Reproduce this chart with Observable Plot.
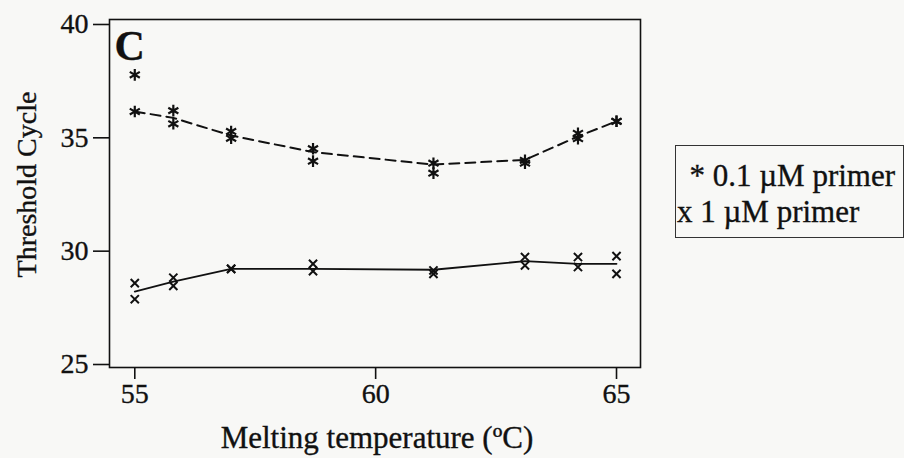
<!DOCTYPE html>
<html>
<head>
<meta charset="utf-8">
<script src="https://cdn.jsdelivr.net/npm/d3@7"></script>
<script src="https://cdn.jsdelivr.net/npm/@observablehq/plot@0.6"></script>
<style>
  html, body { margin: 0; padding: 0; background: #f8f8f6; }
  #wrap { position: relative; width: 904px; height: 458px; overflow: hidden; font-family: 'Liberation Serif', 'Times New Roman', serif; color: #111; }
  #wrap svg, #wrap svg text { font-family: 'Liberation Serif', 'Times New Roman', serif !important; font-variant: normal !important; }
  #wrap svg text { stroke: #111; stroke-width: 0.35px; }
  #legend { position: absolute; left: 675px; top: 145px; width: 229px; height: 93px; box-sizing: border-box; border: 1.5px solid #333; padding-top: 12px; font-size: 31px; line-height: 36px; white-space: nowrap; -webkit-text-stroke: 0.35px #111; }
  #legend .l1 { padding-left: 13.5px; }
  #legend .l2 { padding-left: 1px; }
</style>
</head>
<body>
<div id="wrap"></div>
<script>
// Melting temperatures (°C)
const temps = [55, 55.8, 57, 58.7, 61.2, 63.1, 64.2, 65];
// 0.1 µM primer: replicate threshold cycles and connecting line
const lowRep1 = [37.78, 36.2, 35.28, 34.52, 33.88, 34.01, 35.2, 35.73];
const lowRep2 = [36.16, 35.62, 34.98, 33.97, 33.44, 33.88, 34.96, 35.73];
const lowLine = [36.16, 35.88, 35.1, 34.37, 33.82, 34.03, 35.06, 35.73];
// 1 µM primer: replicate threshold cycles and connecting line
const highRep1 = [28.59, 28.83, 29.22, 29.44, 29.15, 29.74, 29.74, 29.78];
const highRep2 = [27.88, 28.47, 29.22, 29.12, 29.0, 29.37, 29.3, 29.0];
const highLine = [28.22, 28.66, 29.22, 29.22, 29.18, 29.56, 29.44, 29.44];
// Tick labels
const xTicks = [55, 60, 65];
const yTicks = [25, 30, 35, 40];
const xTitle = "Melting temperature (ºC)";
const yTitle = "Threshold Cycle";
const panelLabel = "C";
const legendLabels = ["* 0.1 µM primer", "x 1 µM primer"];

const lowPts = temps.flatMap((t, i) => [{t, v: lowRep1[i]}, {t, v: lowRep2[i]}]);
const highPts = temps.flatMap((t, i) => [{t, v: highRep1[i]}, {t, v: highRep2[i]}]);
const lowL = temps.map((t, i) => ({t, v: lowLine[i]}));
const highL = temps.map((t, i) => ({t, v: highLine[i]}));

const ink = "#111";
const serif = "'Liberation Serif', 'Times New Roman', serif";
const chart = Plot.plot({
  width: 904,
  height: 458,
  marginLeft: 109,
  marginRight: 264,
  marginTop: 19,
  marginBottom: 91,
  style: { fontFamily: serif, background: "transparent", color: ink },
  x: { domain: [54.475, 65.498] },
  y: { domain: [24.868, 40.22] },
  marks: [
    Plot.axisY({ ticks: yTicks, tickSize: 16, tickPadding: 5, fontSize: 28, fontFamily: serif, label: null, strokeWidth: 1.6, stroke: ink, tickFormat: d => String(d) }),
    Plot.axisX({ ticks: xTicks, tickSize: 12, tickPadding: 4, fontSize: 28, fontFamily: serif, label: null, strokeWidth: 1.6, stroke: ink, tickFormat: d => String(d) }),
    Plot.frame({ stroke: ink, strokeWidth: 1.6 }),
    Plot.line(lowL, { x: "t", y: "v", stroke: ink, strokeWidth: 2, strokeDasharray: "10,6" }),
    Plot.line(highL, { x: "t", y: "v", stroke: ink, strokeWidth: 1.8 }),
    Plot.dot(lowPts, { x: "t", y: "v", symbol: "asterisk", r: 5.5, stroke: ink, strokeWidth: 2.2 }),
    Plot.dot(highPts, { x: "t", y: "v", symbol: "times", r: 3.8, stroke: ink, strokeWidth: 2 }),
    Plot.text([panelLabel], { frameAnchor: "top-left", text: d => d, textAnchor: "start", lineAnchor: "bottom", dx: 5, dy: 40, fontSize: 42, fontWeight: "bold", fill: ink }),
    Plot.text([xTitle], { frameAnchor: "bottom", text: d => d, textAnchor: "middle", lineAnchor: "bottom", dx: 2, dy: 80, fontSize: 31, fill: ink }),
    Plot.text([yTitle], { frameAnchor: "left", text: d => d, rotate: -90, textAnchor: "middle", lineAnchor: "bottom", dx: -74, dy: -9, fontSize: 28, fill: ink })
  ]
});
const wrap = document.getElementById("wrap");
wrap.appendChild(chart);
const legend = document.createElement("div");
legend.id = "legend";
legendLabels.forEach((s, i) => {
  const d = document.createElement("div");
  d.className = i === 0 ? "l1" : "l2";
  d.textContent = s;
  legend.appendChild(d);
});
wrap.appendChild(legend);
</script>
</body>
</html>
